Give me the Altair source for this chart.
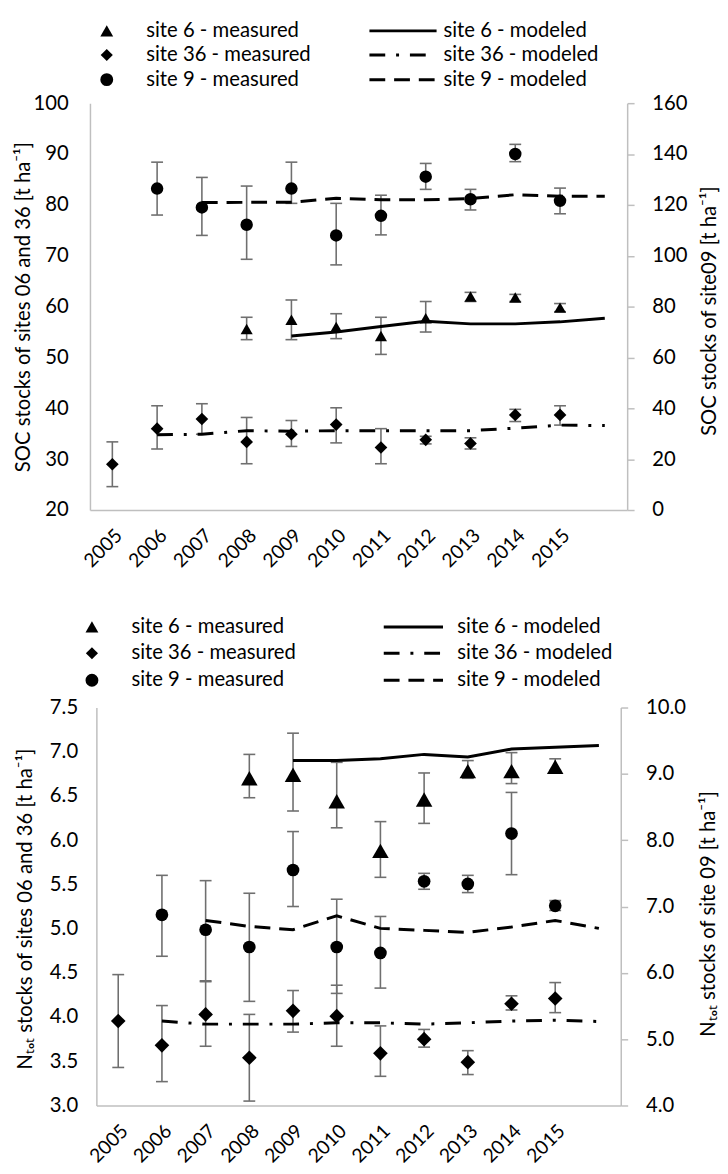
import altair as alt
import pandas as pd

# ---------------- data ----------------
YEARS = [2005, 2006, 2007, 2008, 2009, 2010, 2011, 2012, 2013, 2014, 2015, 2016]
YEAR_TICKS = [2005, 2006, 2007, 2008, 2009, 2010, 2011, 2012, 2013, 2014, 2015]

# SOC panel (left axis: sites 6 and 36, right axis: site 9)
SOC6_VAL = [None, None, None, 55.6, 57.4, 56.0, 54.2, 57.7, 62.0, 61.8, 59.8, None]
SOC6_HI = [None, None, None, 57.9, 61.3, 58.6, 57.9, 61.0, 62.8, 62.4, 60.6, None]
SOC6_LO = [None, None, None, 53.5, 53.5, 53.7, 50.6, 55.0, 61.0, 61.0, 59.0, None]
SOC6_MOD = [None, None, None, None, 54.2, 55.0, 56.1, 57.1, 56.6, 56.6, 57.0, 57.7]

SOC36_VAL = [29.0, 36.0, 37.9, 33.4, 34.9, 36.8, 32.3, 33.8, 33.1, 38.7, 38.7, None]
SOC36_HI = [33.4, 40.5, 40.9, 38.2, 37.6, 40.1, 36.0, 34.5, 34.2, 39.8, 40.5, None]
SOC36_LO = [24.6, 32.0, 34.9, 29.1, 32.5, 33.2, 29.1, 33.0, 32.0, 37.4, 36.7, None]
SOC36_MOD = [None, 34.8, 34.9, 35.6, 35.5, 35.6, 35.6, 35.6, 35.6, 36.1, 36.7, 36.6]

SOC9_VAL = [None, 126.4, 119.0, 112.2, 126.4, 108.0, 115.7, 131.1, 122.2, 140.0, 121.6, None]
SOC9_HI = [None, 136.8, 130.8, 127.4, 136.8, 120.6, 123.8, 136.3, 126.1, 143.8, 126.6, None]
SOC9_LO = [None, 116.0, 108.0, 98.6, 120.6, 96.4, 108.2, 126.1, 118.0, 137.0, 116.5, None]
SOC9_MOD = [None, None, 120.9, 121.0, 121.0, 122.6, 122.0, 122.0, 122.5, 124.0, 123.4, 123.4]

# Ntot panel
N6_VAL = [None, None, None, 6.70, 6.74, 6.44, 5.88, 6.46, 6.78, 6.78, 6.83, None]
N6_HI = [None, None, None, 6.97, 7.21, 6.88, 6.21, 6.76, 6.90, 6.99, 6.92, None]
N6_LO = [None, None, None, 6.48, 6.33, 6.14, 5.58, 6.19, 6.70, 6.64, 6.79, None]
N6_MOD = [None, None, None, None, 6.90, 6.90, 6.92, 6.97, 6.94, 7.03, 7.05, 7.07]

N36_VAL = [3.955, 3.68, 4.03, 3.54, 4.07, 4.01, 3.59, 3.75, 3.49, 4.15, 4.21, None]
N36_HI = [4.48, 4.13, 4.40, 4.03, 4.30, 4.36, 3.90, 3.86, 3.62, 4.24, 4.39, None]
N36_LO = [3.43, 3.27, 3.67, 3.05, 3.83, 3.67, 3.33, 3.66, 3.35, 4.08, 4.05, None]
N36_MOD = [None, 3.955, 3.92, 3.92, 3.92, 3.935, 3.935, 3.92, 3.935, 3.955, 3.965, 3.95]

N9_VAL = [None, 6.875, 6.65, 6.39, 7.55, 6.39, 6.30, 7.38, 7.34, 8.10, 7.01, None]
N9_HI = [None, 7.47, 7.39, 7.20, 8.13, 7.11, 6.85, 7.50, 7.47, 8.72, 7.09, None]
N9_LO = [None, 6.25, 5.88, 5.57, 7.00, 5.69, 5.77, 7.26, 7.21, 7.48, 6.94, None]
N9_MOD = [None, None, 6.79, 6.70, 6.65, 6.86, 6.67, 6.64, 6.61, 6.69, 6.79, 6.67]

LEG_MEAS = ["site 6 - measured", "site 36 - measured", "site 9 - measured"]
LEG_MOD = ["site 6 - modeled", "site 36 - modeled", "site 9 - modeled"]

SOC_LEFT_TITLE = "SOC stocks of sites 06 and 36  [t ha\u207b\u00b9]"
SOC_RIGHT_TITLE = "SOC stocks of site09  [t ha\u207b\u00b9]"
N_LEFT_TITLE = "N\u209c\u2092\u209c stocks of sites 06 and 36 [t ha\u207b\u00b9]"
N_RIGHT_TITLE = "N\u209c\u2092\u209c stocks of site 09 [t ha\u207b\u00b9]"

# ---------------- style ----------------
FONT = "Lato"
FS = 20.5
GREY = "#6f6f6f"
AXC = "#bfbfbf"
DASH_DOT = [16, 11, 3, 11]
DASHED = [16, 9]

XSCALE = alt.Scale(domain=[2004.5, 2016.5], nice=False, zero=False)
XAXIS = alt.Axis(values=YEAR_TICKS, format="d", labelAngle=-45, labelAlign="right",
                 labelBaseline="top", labelOverlap=False, labelFlush=False,
                 labelFontSize=19.5, ticks=False, tickSize=0, labelPadding=16,
                 grid=False, domainColor=AXC, domainWidth=1.5, title=None)


def site_layers(vals, lo, hi, model, shape, size, dash, yscale, yaxis):
    meas = pd.DataFrame({"year": YEARS, "val": vals, "lo": lo, "hi": hi}).dropna()
    mod = pd.DataFrame({"year": YEARS, "model": model}).dropna()
    X = alt.X("year:Q", scale=XSCALE, axis=XAXIS)

    def Y(f):
        return alt.Y(f + ":Q", scale=yscale, axis=yaxis)

    bar = alt.Chart(meas).mark_rule(color=GREY, strokeWidth=1.6).encode(
        x=X, y=Y("lo"), y2="hi:Q")
    caphi = alt.Chart(meas).mark_tick(orient="horizontal", size=12, thickness=1.6,
                                      color=GREY, opacity=1).encode(x=X, y=Y("hi"))
    caplo = alt.Chart(meas).mark_tick(orient="horizontal", size=12, thickness=1.6,
                                      color=GREY, opacity=1).encode(x=X, y=Y("lo"))
    lkw = {"color": "black", "strokeWidth": 3}
    if dash:
        lkw["strokeDash"] = dash
    line = alt.Chart(mod).mark_line(**lkw).encode(x=X, y=Y("model"))
    pts = alt.Chart(meas).mark_point(filled=True, color="black", opacity=1,
                                     shape=shape, size=size).encode(x=X, y=Y("val"))
    return [bar, caphi, caplo, line, pts]


def legend_layers(ys, xm, xt, xl0, xl1, xt2):
    shapes = ["triangle-up", "diamond", "circle"]
    sizes = [170, 150, 170]
    dashes = [None, DASH_DOT, DASHED]
    out = []
    for i in range(3):
        d1 = pd.DataFrame({"label": [LEG_MEAS[i]]})
        d2 = pd.DataFrame({"label": [LEG_MOD[i]]})
        out.append(alt.Chart(d1).mark_point(filled=True, color="black", opacity=1,
                                            shape=shapes[i], size=sizes[i]).encode(
            x=alt.value(xm), y=alt.value(ys[i])))
        out.append(alt.Chart(d1).mark_text(align="left", baseline="middle", font=FONT,
                                           fontSize=FS, color="black").encode(
            x=alt.value(xt), y=alt.value(ys[i]), text="label:N"))
        rkw = {"color": "black", "strokeWidth": 3}
        if dashes[i]:
            rkw["strokeDash"] = dashes[i]
        out.append(alt.Chart(d2).mark_rule(**rkw).encode(
            x=alt.value(xl0), x2=alt.value(xl1), y=alt.value(ys[i])))
        out.append(alt.Chart(d2).mark_text(align="left", baseline="middle", font=FONT,
                                           fontSize=FS, color="black").encode(
            x=alt.value(xt2), y=alt.value(ys[i]), text="label:N"))
    return out


def left_axis(title, values, fmt, tx, ty, pad):
    return alt.Axis(title=title, values=values, format=fmt, grid=False, ticks=False,
                    tickSize=0, labelPadding=pad, domainColor=AXC, domainWidth=1.5,
                    orient="left", titleX=tx, titleY=ty, titleAngle=270,
                    titleAlign="center", titleBaseline="middle")


def right_axis(title, values, fmt, tx, ty):
    return alt.Axis(title=title, values=values, format=fmt, grid=False, ticks=True,
                    tickSize=7, tickColor=AXC, tickWidth=1.5, labelPadding=18,
                    domainColor=AXC, domainWidth=1.5, orient="right",
                    titleX=tx, titleY=ty, titleAngle=270, titleAlign="center",
                    titleBaseline="middle")


# ---------------- top panel (SOC) ----------------
TW, TH = 544, 412
ysl = alt.Scale(domain=[20, 100], nice=False, zero=False)
ysr = alt.Scale(domain=[0, 160], nice=False, zero=False)
axl = left_axis(SOC_LEFT_TITLE, list(range(20, 101, 10)), "d", -67, TH / 2, 22)
axr = right_axis(SOC_RIGHT_TITLE, list(range(0, 161, 20)), "d", 83, TH / 2 + 4)

top_left = alt.layer(
    *site_layers(SOC36_VAL, SOC36_LO, SOC36_HI, SOC36_MOD, "diamond", 165, DASH_DOT, ysl, axl),
    *site_layers(SOC6_VAL, SOC6_LO, SOC6_HI, SOC6_MOD, "triangle-up", 150, None, ysl, axl),
    *legend_layers([-73.2, -48.8, -23.8], 17, 57, 283, 351, 358),
)
top_right = alt.layer(
    *site_layers(SOC9_VAL, SOC9_LO, SOC9_HI, SOC9_MOD, "circle", 160, DASHED, ysr, axr)
)
top = alt.layer(top_left, top_right).resolve_scale(y="independent").properties(
    width=TW, height=TH)

# ---------------- bottom panel (Ntot) ----------------
BW, BH = 531, 403
nsl = alt.Scale(domain=[3.0, 7.5], nice=False, zero=False)
nsr = alt.Scale(domain=[4.0, 10.0], nice=False, zero=False)
naxl = left_axis(N_LEFT_TITLE, [3.0, 3.5, 4.0, 4.5, 5.0, 5.5, 6.0, 6.5, 7.0, 7.5], ".1f",
                 -72, BH / 2 + 2, 19)
naxr = right_axis(N_RIGHT_TITLE, [4.0, 5.0, 6.0, 7.0, 8.0, 9.0, 10.0], ".1f", 89, BH / 2 + 7)

bot_left = alt.layer(
    *site_layers(N36_VAL, N36_LO, N36_HI, N36_MOD, "diamond", 220, DASH_DOT, nsl, naxl),
    *site_layers(N6_VAL, N6_LO, N6_HI, N6_MOD, "triangle-up", 280, None, nsl, naxl),
    *legend_layers([-81.6, -55.0, -27.6], -4.5, 35.5, 291, 351, 365.5),
)
bot_right = alt.layer(
    *site_layers(N9_VAL, N9_LO, N9_HI, N9_MOD, "circle", 165, DASHED, nsr, naxr)
)
bottom = alt.layer(bot_left, bot_right).resolve_scale(y="independent").properties(
    width=BW, height=BH)

chart = alt.vconcat(top, bottom, spacing=200, bounds="flush", center=True).resolve_scale(
    x="independent", y="independent"
).properties(
    padding={"left": 5, "top": 5, "right": 0, "bottom": 0}
).configure_view(stroke=None).configure_axis(
    labelFont=FONT, labelFontSize=FS, labelColor="black",
    titleFont=FONT, titleFontSize=FS, titleFontWeight="normal", titleColor="black",
)

chart.save("out.html", embed_options={"renderer": "svg", "actions": False})
